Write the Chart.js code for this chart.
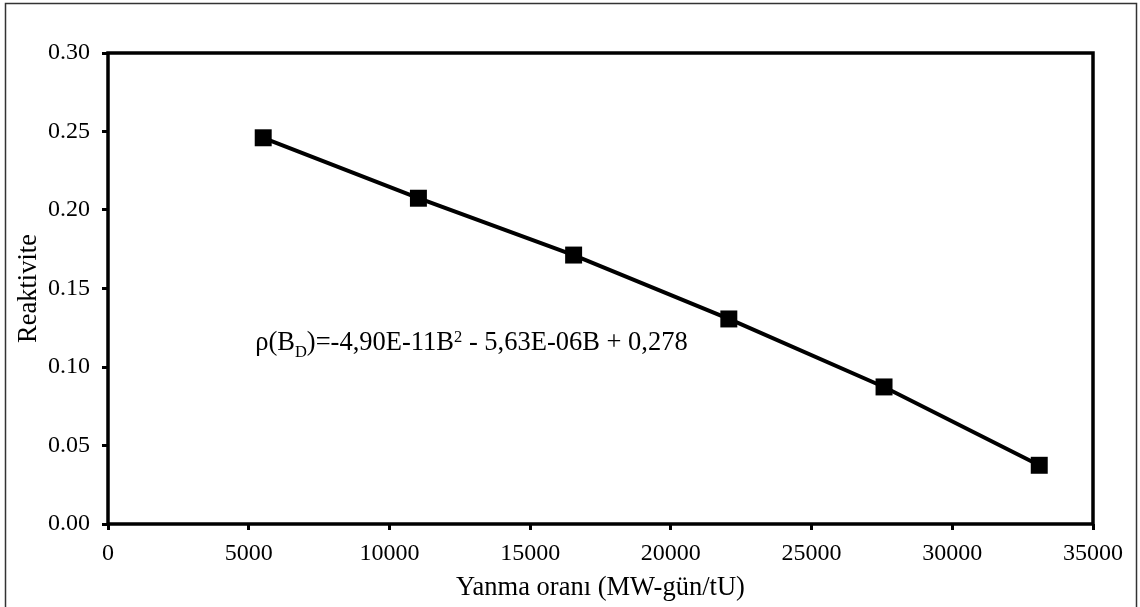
<!DOCTYPE html>
<html>
<head>
<meta charset="utf-8">
<script src="https://cdn.jsdelivr.net/npm/chart.js@4.4.1/dist/chart.umd.min.js"></script>
<style>
  html, body { margin: 0; padding: 0; background: #fff; }
  #wrap { position: relative; width: 1140px; height: 607px; }
  canvas { display: block; }
</style>
</head>
<body>
<div id="wrap"><canvas id="c" width="1140" height="607"></canvas></div>
<script>
// Burnup (MW-day/tU) and reactivity values
const burnup = [5515, 11030, 16545, 22060, 27575, 33090];
const reactivity = [0.246, 0.2075, 0.1713, 0.1306, 0.0873, 0.0374];
const xTicks = [0, 5000, 10000, 15000, 20000, 25000, 30000, 35000];
const yTicks = [0.00, 0.05, 0.10, 0.15, 0.20, 0.25, 0.30];
const xTitle = 'Yanma oranı (MW-gün/tU)';
const yTitle = 'Reaktivite';
// Fit equation label and its baseline anchor in data units
const eqParts = [
  { t: 'ρ(B', k: 'n' }, { t: 'D', k: 'sub' },
  { t: ')=-4,90E-11B', k: 'n' }, { t: '2', k: 'sup' },
  { t: ' - 5,63E-06B + 0,278', k: 'n' }
];
const eqAnchor = { x: 5230, y: 0.111 };

const FONT = '"Liberation Serif", "Times New Roman", serif';

const framePlugin = {
  id: 'frame',
  afterDraw(chart) {
    const { ctx, chartArea: a, scales } = chart;
    ctx.save();
    // outer picture border
    ctx.strokeStyle = '#333';
    ctx.lineWidth = 1.5;
    ctx.strokeRect(5.5, 3.5, 1131, 610);
    // plot area box
    ctx.strokeStyle = '#000';
    ctx.lineWidth = 3.5;
    ctx.strokeRect(a.left, a.top, a.right - a.left, a.bottom - a.top);
    // fit equation
    let x = scales.x.getPixelForValue(eqAnchor.x);
    const y = scales.y.getPixelForValue(eqAnchor.y);
    ctx.fillStyle = '#000';
    ctx.textBaseline = 'alphabetic';
    ctx.textAlign = 'left';
    for (const p of eqParts) {
      let dy = 0;
      if (p.k === 'n') ctx.font = '26.5px ' + FONT;
      else ctx.font = '16.5px ' + FONT;
      if (p.k === 'sub') dy = 7;
      if (p.k === 'sup') dy = -8;
      ctx.fillText(p.t, x, y + dy);
      x += ctx.measureText(p.t).width;
    }
    ctx.restore();
  }
};

new Chart(document.getElementById('c'), {
  type: 'line',
  data: {
    datasets: [{
      data: burnup.map((b, i) => ({ x: b, y: reactivity[i] })),
      borderColor: '#000',
      backgroundColor: '#000',
      borderWidth: 4,
      pointStyle: 'rect',
      pointRadius: 12,
      pointHoverRadius: 12,
      pointBorderWidth: 0,
      tension: 0
    }]
  },
  options: {
    responsive: false,
    animation: false,
    events: [],
    layout: { padding: { left: 13, right: 47, top: 53, bottom: 0 } },
    plugins: { legend: { display: false }, tooltip: { enabled: false } },
    scales: {
      x: {
        type: 'linear',
        min: 0, max: 35000,
        afterBuildTicks(s) { s.ticks = xTicks.map(v => ({ value: v })); },
        afterFit(s) { s.height = 83; },
        border: { display: false },
        grid: { drawOnChartArea: false, drawTicks: true, tickLength: 6, tickWidth: 3, tickColor: '#000' },
        ticks: { color: '#000', font: { family: FONT, size: 24 }, padding: 9, maxRotation: 0, callback: v => String(v) },
        title: { display: true, text: xTitle, color: '#000', font: { family: FONT, size: 26.5 }, padding: { top: 4, bottom: 3 } }
      },
      y: {
        type: 'linear',
        min: 0, max: 0.30,
        afterBuildTicks(s) { s.ticks = yTicks.map(v => ({ value: v })); },
        afterFit(s) { s.width = 95; },
        border: { display: false },
        grid: { drawOnChartArea: false, drawTicks: true, tickLength: 6, tickWidth: 3, tickColor: '#000' },
        ticks: { color: '#000', font: { family: FONT, size: 24 }, padding: 12, callback: v => Number(v).toFixed(2) },
        title: { display: true, text: yTitle, color: '#000', font: { family: FONT, size: 26.5 }, padding: { top: 0, bottom: 0 } }
      }
    }
  },
  plugins: [framePlugin]
});
</script>
</body>
</html>
